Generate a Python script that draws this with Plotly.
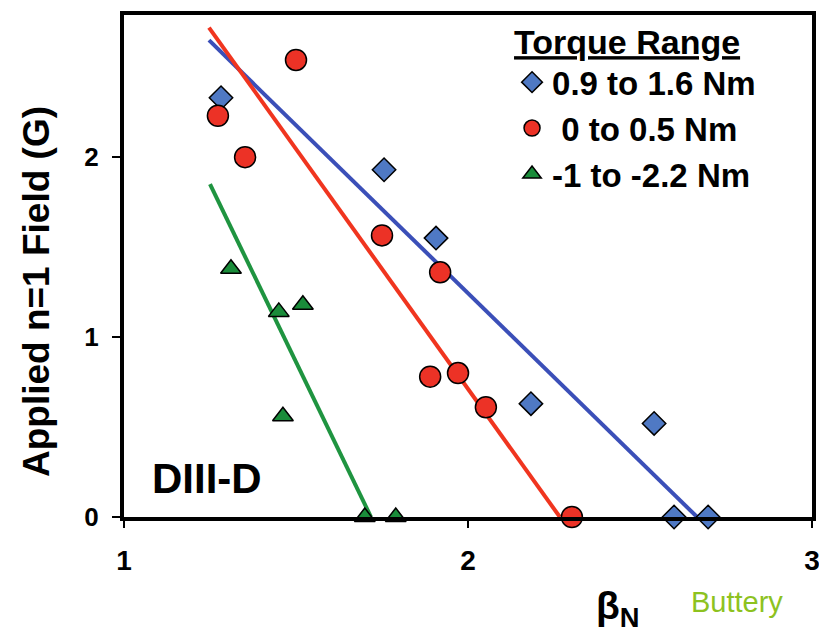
import plotly.graph_objects as go

# Data
blue_x = [1.282, 1.756, 1.907, 2.183, 2.541, 2.599, 2.698]
blue_y = [2.33, 1.93, 1.55, 0.63, 0.52, 0.0, 0.0]

red_x = [1.500, 1.273, 1.352, 1.750, 1.919, 1.890, 1.971, 2.052, 2.302]
red_y = [2.54, 2.23, 2.00, 1.565, 1.36, 0.78, 0.80, 0.61, 0.0]

green_x = [1.311, 1.450, 1.520, 1.462, 1.700, 1.790]
green_y = [1.38, 1.14, 1.18, 0.56, 0.0, 0.0]

# Trend lines (endpoints)
fit_blue_x = [1.247, 2.666]
fit_blue_y = [2.65, 0.0]
fit_red_x = [1.247, 2.267]
fit_red_y = [2.72, 0.0]
fit_green_x = [1.25, 1.718]
fit_green_y = [1.85, 0.0]

labels = ["0.9 to 1.6 Nm", " 0 to 0.5 Nm", "-1 to -2.2 Nm"]
x_ticks = [1, 2, 3]
y_ticks = [0, 1, 2]

FONT = "Arial, Liberation Sans, sans-serif"

fig = go.Figure()

# trend lines
for fx, fy, col in [(fit_blue_x, fit_blue_y, "#3B4FB8"),
                    (fit_red_x, fit_red_y, "#F0351F"),
                    (fit_green_x, fit_green_y, "#1F9440")]:
    fig.add_trace(go.Scatter(x=fx, y=fy, mode="lines",
                             line=dict(color=col, width=4),
                             showlegend=False, hoverinfo="skip",
                             cliponaxis=False))

fig.add_trace(go.Scatter(x=blue_x, y=blue_y, mode="markers", name=labels[0],
                         marker=dict(symbol="diamond", size=18, color="#4F79C4",
                                     line=dict(color="black", width=1.5)),
                         cliponaxis=False))
fig.add_trace(go.Scatter(x=red_x, y=red_y, mode="markers", name=labels[1],
                         marker=dict(symbol="circle", size=21, color="#EC3226",
                                     line=dict(color="black", width=1.5)),
                         cliponaxis=False))
fig.add_trace(go.Scatter(x=green_x, y=green_y, mode="markers", name=labels[2],
                         marker=dict(symbol="triangle-up", size=18, color="#1A8C3A",
                                     line=dict(color="black", width=1.5)),
                         cliponaxis=False))

fig.update_layout(
    width=819, height=626,
    margin=dict(l=116, r=15, t=2, b=117),
    paper_bgcolor="white", plot_bgcolor="white",
    font=dict(family=FONT, color="black"),
    showlegend=True,
    legend=dict(
        x=0.564, y=1.01, xanchor="left", yanchor="top",
        bgcolor="rgba(0,0,0,0)", borderwidth=0,
        font=dict(size=33, family=FONT, color="black", weight="bold"),
        title=dict(text="<b><u>Torque Range</u></b>",
                   font=dict(size=34, family=FONT, color="black")),
        tracegroupgap=0, itemwidth=30,
    ),
    xaxis=dict(range=[1, 3], tickvals=x_ticks, ticktext=[str(v) for v in x_ticks],
               showgrid=False, zeroline=False,
               showline=True, linecolor="black", linewidth=4, mirror=True,
               ticks="outside", ticklen=7, tickwidth=1.5, tickcolor="black",
               ticklabelstandoff=8,
               tickfont=dict(size=28, family=FONT, color="black", weight="bold")),
    yaxis=dict(range=[0, 2.79], tickvals=y_ticks, ticktext=[str(v) for v in y_ticks],
               showgrid=False, zeroline=False,
               showline=True, linecolor="black", linewidth=4, mirror=True,
               ticks="outside", ticklen=8, tickwidth=1.5, tickcolor="black",
               ticklabelstandoff=8,
               tickfont=dict(size=26, family=FONT, color="black", weight="bold")),
    annotations=[
        dict(text="<b>DIII-D</b>", x=1.0756, y=0.215, xref="x", yref="y",
             xanchor="left", yanchor="middle", showarrow=False,
             font=dict(size=42, family=FONT, color="black")),
        dict(text="<b>Applied n=1 Field (G)</b>", x=-0.128, y=0.45,
             xref="paper", yref="paper", xanchor="center", yanchor="middle",
             textangle=-90, showarrow=False,
             font=dict(size=37, family=FONT, color="black")),
        dict(text="<b>β<sub>N</sub></b>", x=0.718, y=-0.182,
             xref="paper", yref="paper", xanchor="center", yanchor="middle",
             showarrow=False, font=dict(size=39, family=FONT, color="black")),
        dict(text="Buttery", x=0.891, y=-0.17,
             xref="paper", yref="paper", xanchor="center", yanchor="middle",
             showarrow=False, font=dict(size=29, family=FONT, color="#8DC21F")),
    ],
)

fig.write_html("out.html")
